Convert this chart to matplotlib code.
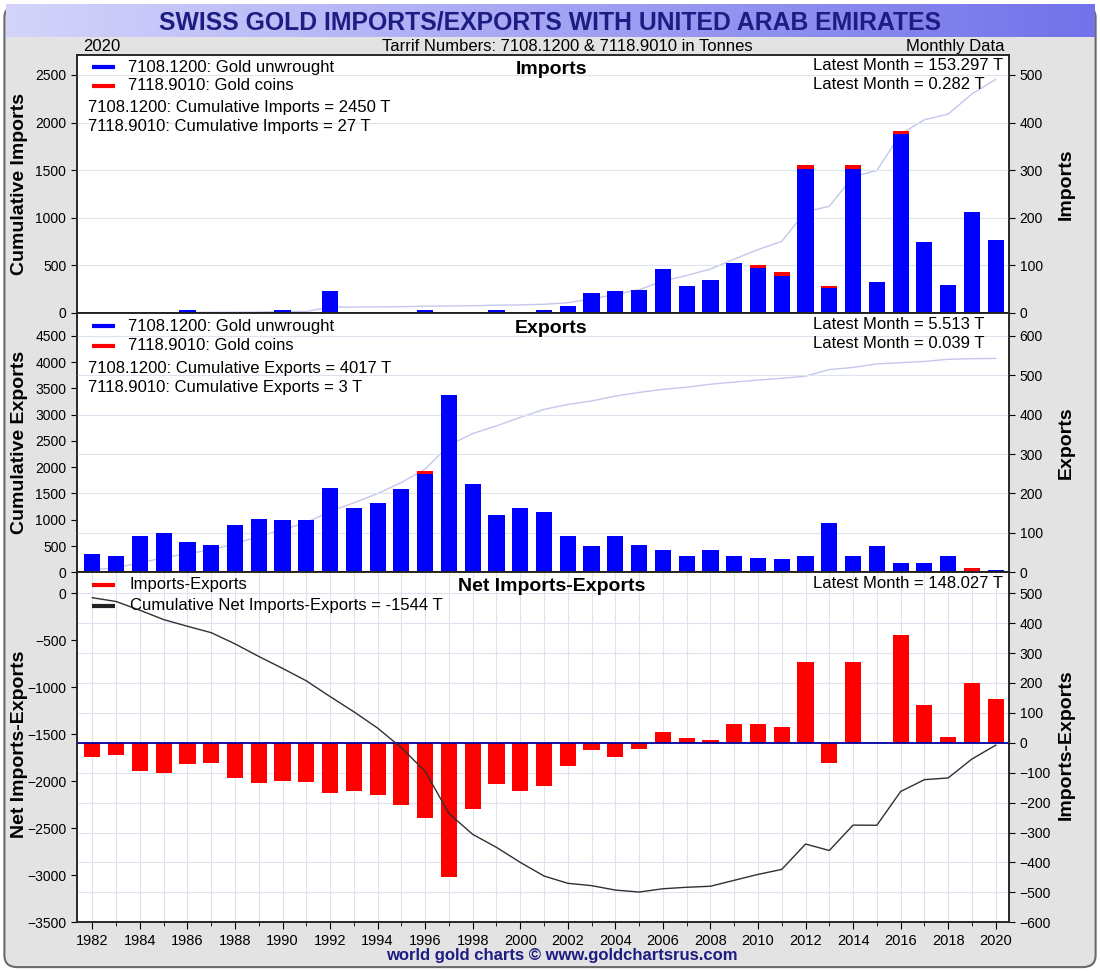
import numpy as np
import matplotlib.pyplot as plt
from matplotlib.patches import FancyBboxPatch
from matplotlib.colors import LinearSegmentedColormap
from matplotlib.ticker import MultipleLocator

FONT = ['Liberation Sans', 'DejaVu Sans']
plt.rcParams['font.family'] = FONT

# yearly tonnes (1982..2020)
years = np.arange(1982, 2021)
imp_unwrought = [0, 0, 0, 0, 5.6, 2, 0, 2, 5.6, 0,
                 46.5, 0, 2, 2, 5.6, 2, 2, 7, 2, 7,
                 15.5, 42, 46, 49, 92.5, 56.5, 68.5, 104, 94.6, 78,
                 302, 51.5, 302, 65, 376, 150, 59, 212.5, 152.5]
imp_coins = [0] * 28 + [5.4, 9, 9, 5.5, 9, 0, 7, 0, 0, 0, 0]
exp_unwrought = [46.4, 40.5, 92.8, 99.6, 76.8, 70, 119, 135.9, 132.5, 132.5,
                 214, 162, 175.5, 211, 250.6, 449.8, 224.5, 145, 162, 152,
                 93, 67, 93, 70, 57.6, 40.7, 57.6, 40.7, 37.3, 34,
                 40.7, 126, 40.7, 67, 23.7, 23.7, 40.7, 2, 5.5]
exp_coins = [0] * 14 + [6.8] + [0] * 22 + [9, 0]

imports_total = np.array(imp_unwrought) + np.array(imp_coins)
exports_total = np.array(exp_unwrought) + np.array(exp_coins)
net = imports_total - exports_total
cum_imports = np.cumsum(imports_total)
cum_exports = np.cumsum(exports_total)
cum_net = np.cumsum(net)

BLUE = '#0000ff'
RED = '#ff0000'
NAVY = '#1c1c82'
GRID = '#dbe4ee'
CUMLINE = '#c6c6ec'
XLIM = (1981.34, 2020.57)
BAR_W = 0.68
L, W = 0.0697, 0.8478
LEFT_LAB_X, RIGHT_LAB_X = -0.052, 1.052


def style_x(ax, labels):
    ax.set_xlim(*XLIM)
    ax.xaxis.set_major_locator(MultipleLocator(2))
    ax.xaxis.set_minor_locator(MultipleLocator(1))
    if labels:
        ax.tick_params(axis='x', which='major', direction='out', length=5, labelsize=10.5)
        ax.tick_params(axis='x', which='minor', direction='out', length=3)
    else:
        ax.tick_params(axis='x', which='both', length=0, labelbottom=False)


def style_y(ax, step):
    ax.yaxis.set_major_locator(MultipleLocator(step))
    ax.tick_params(axis='y', direction='out', length=4, labelsize=10)
    for s in ax.spines.values():
        s.set_color('#222222')
        s.set_linewidth(1.1)


def add_grid(ax):
    ax.set_axisbelow(True)
    ax.grid(axis='x', which='both', color=GRID, lw=0.8)
    ax.grid(axis='y', which='major', color=GRID, lw=0.8)


def legend_row(ax, y, color, label, x_text=0.055):
    ax.plot([0.0164, 0.041], [y, y], transform=ax.transAxes, color=color,
            lw=3, solid_capstyle='butt', clip_on=False)
    ax.text(x_text, y, label, transform=ax.transAxes, fontsize=12, va='center')


def note(ax, x, y, s, **kw):
    ax.text(x, y, s, transform=ax.transAxes, fontsize=12, va='center', **kw)


def panel_title(ax, y, s):
    ax.text(0.509, y, s, transform=ax.transAxes, ha='center', va='center',
            fontsize=14, fontweight='bold')


def ylabels(ax_left, ax_right, left, right, y=0.5):
    ax_left.set_ylabel(left, fontsize=14, fontweight='bold')
    ax_right.set_ylabel(right, fontsize=14, fontweight='bold')
    ax_left.yaxis.set_label_coords(LEFT_LAB_X, y)
    ax_right.yaxis.set_label_coords(RIGHT_LAB_X, y)


fig = plt.figure(figsize=(11, 9.71), dpi=100)
fig.patch.set_facecolor('white')
fig.patches.append(FancyBboxPatch((0.004, 0.004), 0.992, 0.99,
                                  boxstyle='round,pad=0,rounding_size=0.012',
                                  transform=fig.transFigure, facecolor='#e3e3e3',
                                  edgecolor='#6a6a6a', lw=1.5, zorder=-10))

# title bar
tax = fig.add_axes([0.005, 0.962, 0.99, 0.034])
cmap = LinearSegmentedColormap.from_list('bar', ['#d4d4fb', '#a4a4f4', '#7272ea'])
tax.imshow(np.linspace(0, 1, 256).reshape(1, -1), aspect='auto', cmap=cmap, extent=[0, 1, 0, 1])
tax.set_axis_off()
tax.text(0.5, 0.45, 'SWISS GOLD IMPORTS/EXPORTS WITH UNITED ARAB EMIRATES', ha='center',
         va='center', fontsize=17.8, fontweight='bold', color=NAVY, transform=tax.transAxes)
fig.text(0.0755, 0.9526, '2020', ha='left', va='center', fontsize=12)
fig.text(0.5155, 0.9526, 'Tarrif Numbers: 7108.1200 & 7118.9010 in Tonnes', ha='center',
         va='center', fontsize=12)
fig.text(0.9136, 0.9526, 'Monthly Data', ha='right', va='center', fontsize=12)
fig.text(0.511, 0.0155, 'world gold charts \u00a9 www.goldchartsrus.com', ha='center',
         va='center', fontsize=12, fontweight='bold', color=NAVY)

# ---- Imports ----
ax1 = fig.add_axes([L, 0.6777, W, 0.2657])
ax1r = ax1.twinx()
ax1.plot(years, cum_imports, color=CUMLINE, lw=1)
ax1r.bar(years, imp_unwrought, BAR_W, color=BLUE)
ax1r.bar(years, imp_coins, BAR_W, bottom=imp_unwrought, color=RED)
ax1.set_ylim(0, 2710)
ax1r.set_ylim(0, 542)
for a in (ax1, ax1r):
    style_x(a, False)
style_y(ax1, 500)
style_y(ax1r, 100)
add_grid(ax1r)
ylabels(ax1, ax1r, 'Cumulative Imports', 'Imports')
legend_row(ax1r, 0.953, BLUE, '7108.1200: Gold unwrought')
legend_row(ax1r, 0.880, RED, '7118.9010: Gold coins')
note(ax1r, 0.012, 0.798, '7108.1200: Cumulative Imports = 2450 T')
note(ax1r, 0.012, 0.721, '7118.9010: Cumulative Imports = 27 T')
panel_title(ax1r, 0.945, 'Imports')
note(ax1r, 0.79, 0.961, 'Latest Month = 153.297 T')
note(ax1r, 0.79, 0.884, 'Latest Month = 0.282 T')

# ---- Exports ----
ax2 = fig.add_axes([L, 0.4106, W, 0.2670])
ax2r = ax2.twinx()
ax2.plot(years, cum_exports, color=CUMLINE, lw=1)
ax2r.bar(years, exp_unwrought, BAR_W, color=BLUE)
ax2r.bar(years, exp_coins, BAR_W, bottom=exp_unwrought, color=RED)
ax2.set_ylim(0, 4932)
ax2r.set_ylim(0, 657.6)
for a in (ax2, ax2r):
    style_x(a, False)
style_y(ax2, 500)
style_y(ax2r, 100)
add_grid(ax2r)
ylabels(ax2, ax2r, 'Cumulative Exports', 'Exports')
legend_row(ax2r, 0.950, BLUE, '7108.1200: Gold unwrought')
legend_row(ax2r, 0.873, RED, '7118.9010: Gold coins')
note(ax2r, 0.012, 0.788, '7108.1200: Cumulative Exports = 4017 T')
note(ax2r, 0.012, 0.711, '7118.9010: Cumulative Exports = 3 T')
panel_title(ax2r, 0.942, 'Exports')
note(ax2r, 0.79, 0.957, 'Latest Month = 5.513 T')
note(ax2r, 0.79, 0.884, 'Latest Month = 0.039 T')

# ---- Net ----
ax3 = fig.add_axes([L, 0.0502, W, 0.3605])
ax3l = ax3.twinx()
ax3.yaxis.tick_right()
ax3.yaxis.set_label_position('right')
ax3l.yaxis.tick_left()
ax3l.yaxis.set_label_position('left')
ax3.bar(years, net, BAR_W, color=RED)
ax3.axhline(0, color='#0000a0', lw=1.3)
ax3l.plot(years, cum_net, color='#303030', lw=1)
ax3.set_ylim(-600, 570.2)
ax3l.set_ylim(-3500, 225)
for a in (ax3, ax3l):
    style_x(a, True)
style_y(ax3, 100)
style_y(ax3l, 500)
add_grid(ax3)
ylabels(ax3l, ax3, 'Net Imports-Exports', 'Imports-Exports', y=0.507)
legend_row(ax3l, 0.964, RED, 'Imports-Exports', x_text=0.057)
legend_row(ax3l, 0.904, '#222222', 'Cumulative Net Imports-Exports = -1544 T', x_text=0.057)
panel_title(ax3l, 0.958, 'Net Imports-Exports')
note(ax3l, 0.79, 0.969, 'Latest Month = 148.027 T')

fig.savefig('out.png', dpi=100)
